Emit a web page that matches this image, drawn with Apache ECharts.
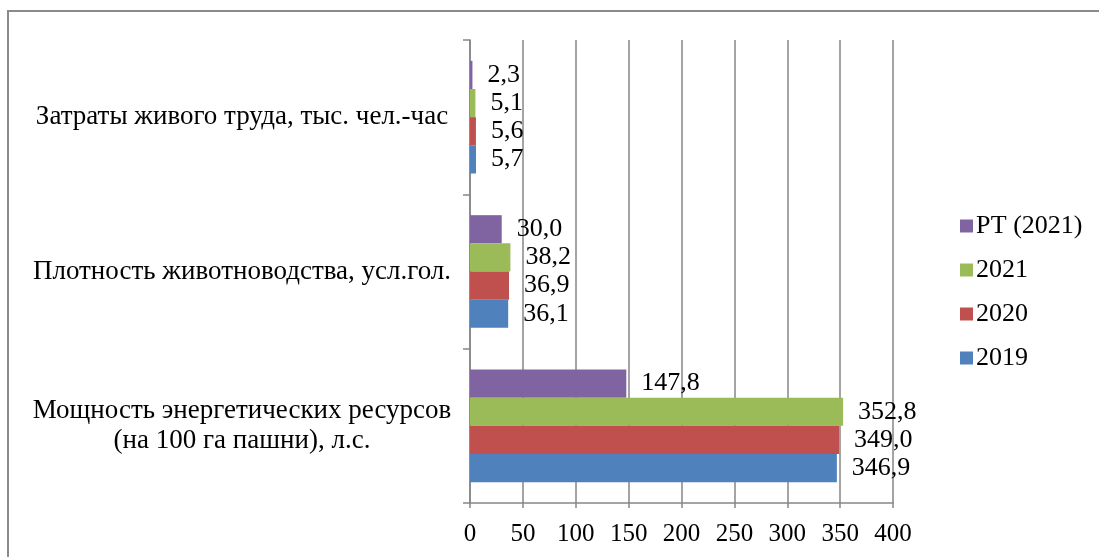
<!DOCTYPE html>
<html><head><meta charset="utf-8">
<script src="https://cdn.jsdelivr.net/npm/echarts@6/dist/echarts.min.js"></script>
<style>
html,body{margin:0;padding:0;background:#fff;}
#frame{position:absolute;left:7px;top:10px;width:1200px;height:700px;border-left:2px solid #8a8a8a;border-top:2px solid #8a8a8a;}
#c{position:absolute;left:0;top:0;width:1099px;height:557px;}
</style></head>
<body>
<div id="frame"></div>
<div id="c"></div>
<script>
const categories = [
  'Мощность энергетических ресурсов\n(на 100 га пашни), л.с.',
  'Плотность животноводства, усл.гол.',
  'Затраты живого труда, тыс. чел.-час'
];
const seriesNames = ['2019', '2020', '2021', 'РТ (2021)'];
const v2019 = [346.9, 36.1, 5.7];
const v2020 = [349.0, 36.9, 5.6];
const v2021 = [352.8, 38.2, 5.1];
const vRT = [147.8, 30.0, 2.3];
const xTicks = [0, 50, 100, 150, 200, 250, 300, 350, 400];
const colors = ['#4F81BD', '#C0504D', '#9BBB59', '#8064A2'];
const values = [v2019, v2020, v2021, vRT];

const FONT = 'Liberation Serif';
const chart = echarts.init(document.getElementById('c'));
// ECharts places the first bar series at the top of a horizontal band,
// so the series are added in reverse to keep 2019 at the bottom.
const order = [3, 2, 1, 0];
chart.setOption({
  animation: false,
  textStyle: {fontFamily: FONT},
  grid: {left: 470, right: 206, top: 40, bottom: 54, containLabel: false},
  legend: {
    orient: 'vertical', left: 955, top: 208,
    data: ['РТ (2021)', '2021', '2020', '2019'],
    itemWidth: 13, itemHeight: 13, itemGap: 18,
    icon: 'rect',
    textStyle: {fontFamily: FONT, fontSize: 26, color: '#000', padding: [0,0,0,-2]}
  },
  xAxis: {
    type: 'value', min: xTicks[0], max: xTicks[xTicks.length-1], interval: 50,
    axisLine: {show: true, lineStyle: {color: '#868686', width: 1.5}},
    axisTick: {show: true, length: 5, lineStyle: {color: '#868686', width: 1.5}},
    splitLine: {show: true, lineStyle: {color: '#868686', width: 1.5}},
    axisLabel: {fontFamily: FONT, fontSize: 25, color: '#000', margin: 19}
  },
  yAxis: {
    type: 'category', data: categories,
    axisLine: {show: true, lineStyle: {color: '#868686', width: 1.5}},
    axisTick: {show: true, length: 7, lineStyle: {color: '#868686', width: 1.5}},
    axisLabel: {fontFamily: FONT, fontSize: 27, color: '#000', align: 'center', margin: 228, lineHeight: 30}
  },
  series: order.map(i => ({
    name: seriesNames[i], type: 'bar', data: values[i],
    barGap: '0%', barCategoryGap: '27%',
    itemStyle: {color: colors[i]},
    label: {
      show: true, position: 'right', distance: 15,
      fontFamily: FONT, fontSize: 26, color: '#000',
      formatter: p => p.value.toFixed(1).replace('.', ',')
    }
  }))
});
</script>
</body></html>
